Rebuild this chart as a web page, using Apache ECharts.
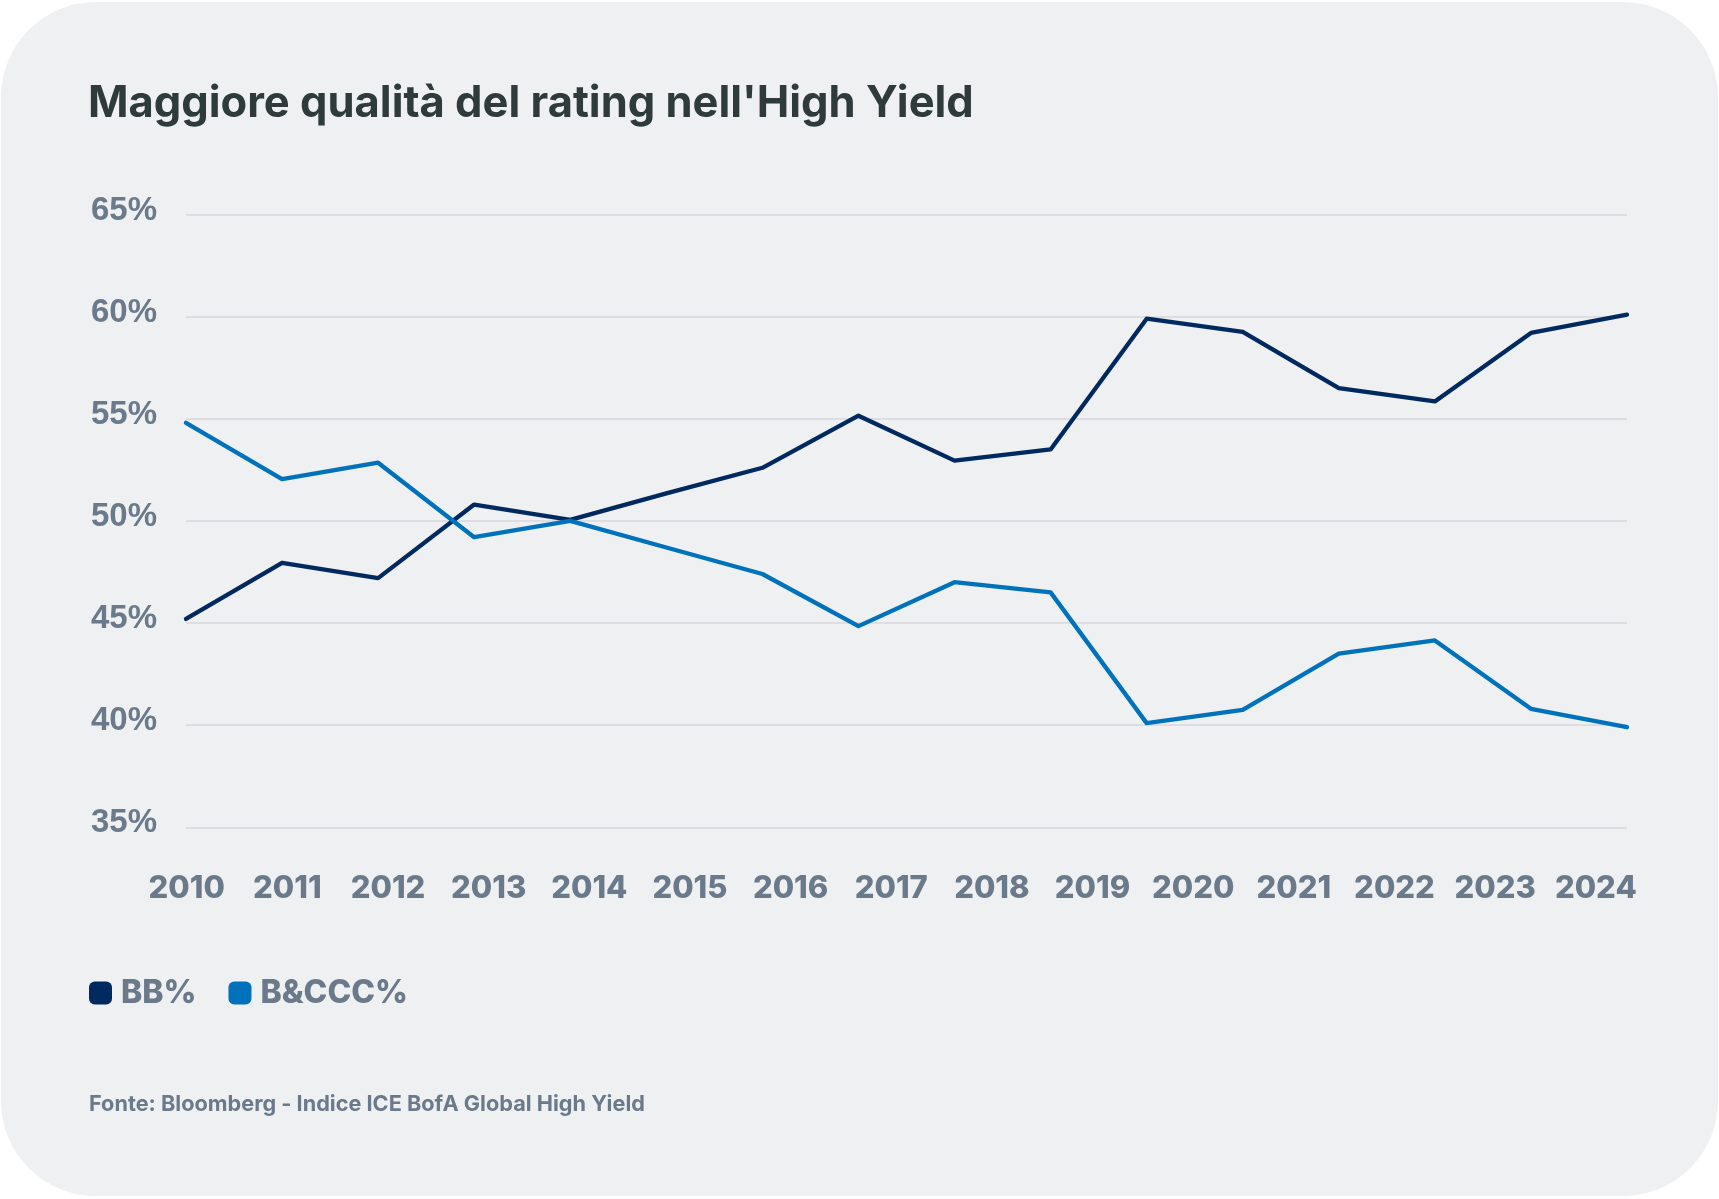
<!DOCTYPE html>
<html>
<head>
<meta charset="utf-8">
<script src="https://cdn.jsdelivr.net/npm/echarts@6/dist/echarts.min.js"></script>
<style>
  html, body { margin: 0; padding: 0; background: #ffffff; }
  #chart { width: 1719px; height: 1199px; }
</style>
</head>
<body>
<div id="chart"></div>
<script>
// ---- data ----
const years = ['2010','2011','2012','2013','2014','2015','2016','2017','2018','2019','2020','2021','2022','2023','2024'];
const observations = ['1','2','3','4','5','6','7','8','9','10','11','12','13','14','15','16'];
const bbValues = [45.2, 47.95, 47.2, 50.8, 50.05, 51.35, 52.6, 55.15, 52.95, 53.5, 59.9, 59.25, 56.5, 55.85, 59.2, 60.1];
const bcccValues = [54.8, 52.05, 52.85, 49.2, 50.0, 48.7, 47.4, 44.85, 47.0, 46.5, 40.1, 40.75, 43.5, 44.15, 40.8, 39.9];
const seriesNames = ['BB%', 'B&CCC%'];
const titleText = "Maggiore qualità del rating nell'High Yield";
const sourceText = 'Fonte: Bloomberg - Indice ICE BofA Global High Yield';

const GREY = '#6b7a8b';
const chart = echarts.init(document.getElementById('chart'), null, { renderer: 'canvas' });

chart.setOption({
  backgroundColor: 'transparent',
  animation: false,
  graphic: [
    { type: 'rect', z: -10, silent: true,
      shape: { x: 1, y: 2, width: 1717, height: 1194, r: 95 },
      style: { fill: '#eff0f2' } },
    { type: 'text', left: 88, top: 82,
      style: { text: titleText, fill: '#2e3b3a', font: '700 43.5px Inter' } },
    { type: 'text', left: 89, top: 1093,
      style: { text: sourceText, fill: GREY, font: '700 21.7px Inter' } }
  ],
  legend: {
    left: 89, top: 977,
    padding: 0,
    icon: 'roundRect',
    itemWidth: 23, itemHeight: 23,
    itemGap: 32,
    data: seriesNames,
    textStyle: { color: GREY, fontSize: 32, fontWeight: 800, fontFamily: 'Inter', padding: [0, 0, 0, 4] }
  },
  grid: [
    { left: 186, right: 92, top: 214.5, bottom: 371.7 },
    { left: 186.7, right: 123.2, top: 214.5, bottom: 371.7 }
  ],
  xAxis: [
    { type: 'category', gridIndex: 0, data: observations, boundaryGap: false, show: false },
    { type: 'category', gridIndex: 1, data: years, boundaryGap: false,
      axisLine: { show: false }, axisTick: { show: false }, splitLine: { show: false },
      axisLabel: { color: GREY, fontSize: 31, fontWeight: 800, fontFamily: 'Inter',
        margin: 46, lineHeight: 31, interval: 0 } }
  ],
  yAxis: [
    { type: 'value', gridIndex: 0, min: 35, max: 65, interval: 5,
      axisLine: { show: false }, axisTick: { show: false },
      splitLine: { lineStyle: { color: '#d8d9dc', width: 1.5 } },
      axisLabel: { color: GREY, fontSize: 33, fontWeight: 700, fontFamily: 'Liberation Sans',
        formatter: '{value}%', align: 'left', margin: 95, verticalAlign: 'bottom', lineHeight: 8 } },
    { type: 'value', gridIndex: 1, min: 35, max: 65, show: false }
  ],
  series: [
    { name: seriesNames[0], type: 'line', xAxisIndex: 0, yAxisIndex: 0, data: bbValues,
      symbol: 'none', color: '#00295f',
      lineStyle: { width: 4.3, color: '#00295f', cap: 'round', join: 'round' },
      itemStyle: { color: '#00295f' } },
    { name: seriesNames[1], type: 'line', xAxisIndex: 0, yAxisIndex: 0, data: bcccValues,
      symbol: 'none', color: '#0072bb',
      lineStyle: { width: 4.3, color: '#0072bb', cap: 'round', join: 'round' },
      itemStyle: { color: '#0072bb' } }
  ]
});
</script>
</body>
</html>
